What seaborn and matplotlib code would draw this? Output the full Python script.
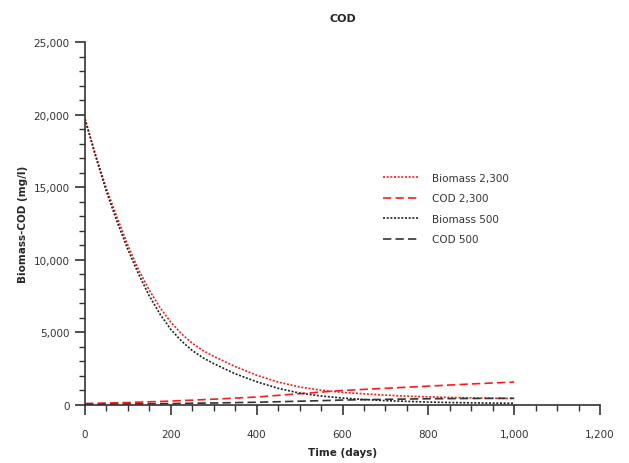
import numpy as np
import pandas as pd
import matplotlib
matplotlib.use("Agg")
import matplotlib.pyplot as plt
import seaborn as sns
from matplotlib.ticker import MultipleLocator, FuncFormatter

days = [0, 25, 50, 75, 100, 125, 150, 175, 200, 225, 250, 275, 300, 350, 400, 450, 500,
        550, 600, 650, 700, 750, 800, 850, 900, 950, 1000]
biomass_2300 = [19700, 17200, 14900, 12900, 11000, 9300, 7900, 6700, 5700, 4900, 4250, 3750,
                3350, 2650, 2050, 1580, 1240, 1020, 870, 770, 680, 610, 560, 520, 490, 470, 450]
biomass_500 = [19700, 17100, 14700, 12600, 10700, 9000, 7500, 6250, 5200, 4400, 3750, 3250,
               2850, 2150, 1600, 1150, 820, 620, 480, 380, 300, 250, 200, 170, 150, 130, 120]
cod_days = [0, 100, 200, 300, 400, 500, 600, 700, 800, 900, 1000]
cod_2300 = [100, 170, 270, 400, 550, 780, 1000, 1150, 1300, 1450, 1580]
cod_500 = [50, 70, 100, 140, 190, 260, 340, 390, 430, 450, 460]

series_names = ["Biomass 2,300", "COD 2,300", "Biomass 500", "COD 500"]

frames = [
    pd.DataFrame({"t": days, "v": biomass_2300, "s": series_names[0]}),
    pd.DataFrame({"t": cod_days, "v": cod_2300, "s": series_names[1]}),
    pd.DataFrame({"t": days, "v": biomass_500, "s": series_names[2]}),
    pd.DataFrame({"t": cod_days, "v": cod_500, "s": series_names[3]}),
]

sns.set_style("white")
plt.rcParams["font.family"] = ["DejaVu Sans"]

fig = plt.figure(figsize=(6.29, 4.64), dpi=100)
ax = fig.add_axes([85 / 629, 58 / 464, 515 / 629, 363 / 464])

styles = [
    ("#ff1a1a", (0, (1.2, 1.0))),
    ("#ff1a1a", (0, (5, 2.5))),
    ("#222222", (0, (1.2, 1.0))),
    ("#333333", (0, (5, 2.5))),
]
for df, name, (col, ls) in zip(frames, series_names, styles):
    sns.lineplot(data=df, x="t", y="v", ax=ax, color=col, linestyle=ls,
                 linewidth=1.2, label=name)

ax.set_xlim(0, 1200)
ax.set_ylim(0, 25000)
ax.xaxis.set_major_locator(MultipleLocator(200))
ax.xaxis.set_minor_locator(MultipleLocator(50))
ax.yaxis.set_major_locator(MultipleLocator(5000))
ax.yaxis.set_minor_locator(MultipleLocator(1000))
fmt = FuncFormatter(lambda v, p: f"{int(v):,}")
ax.xaxis.set_major_formatter(fmt)
ax.yaxis.set_major_formatter(fmt)

for s in ["top", "right"]:
    ax.spines[s].set_visible(False)
for s in ["left", "bottom"]:
    ax.spines[s].set_color("#333333")
    ax.spines[s].set_linewidth(1.2)

ax.tick_params(axis="both", which="major", direction="out", length=7, width=1.2,
               color="#333333", labelsize=7.5, labelcolor="#333333")
ax.tick_params(axis="both", which="minor", direction="out", length=4, width=1.0,
               color="#333333")
ax.tick_params(axis="y", which="major", pad=4)
ax.tick_params(axis="x", which="major", pad=10)
ax.tick_params(bottom=True, left=True, which="both")

ax.set_xlabel("Time (days)", fontsize=7.5, fontweight="bold", labelpad=6)
ax.set_ylabel("Biomass-COD (mg/l)", fontsize=7.5, fontweight="bold", labelpad=4)
ax.set_title("COD", fontsize=8, fontweight="bold", pad=15)

leg = ax.legend(loc="upper left", bbox_to_anchor=(0.56, 0.665), frameon=False,
                fontsize=7.5, handlelength=3.5, handletextpad=1.2,
                labelspacing=1.0)
for t in leg.get_texts():
    t.set_color("#333333")

fig.savefig("out.png", dpi=100)
